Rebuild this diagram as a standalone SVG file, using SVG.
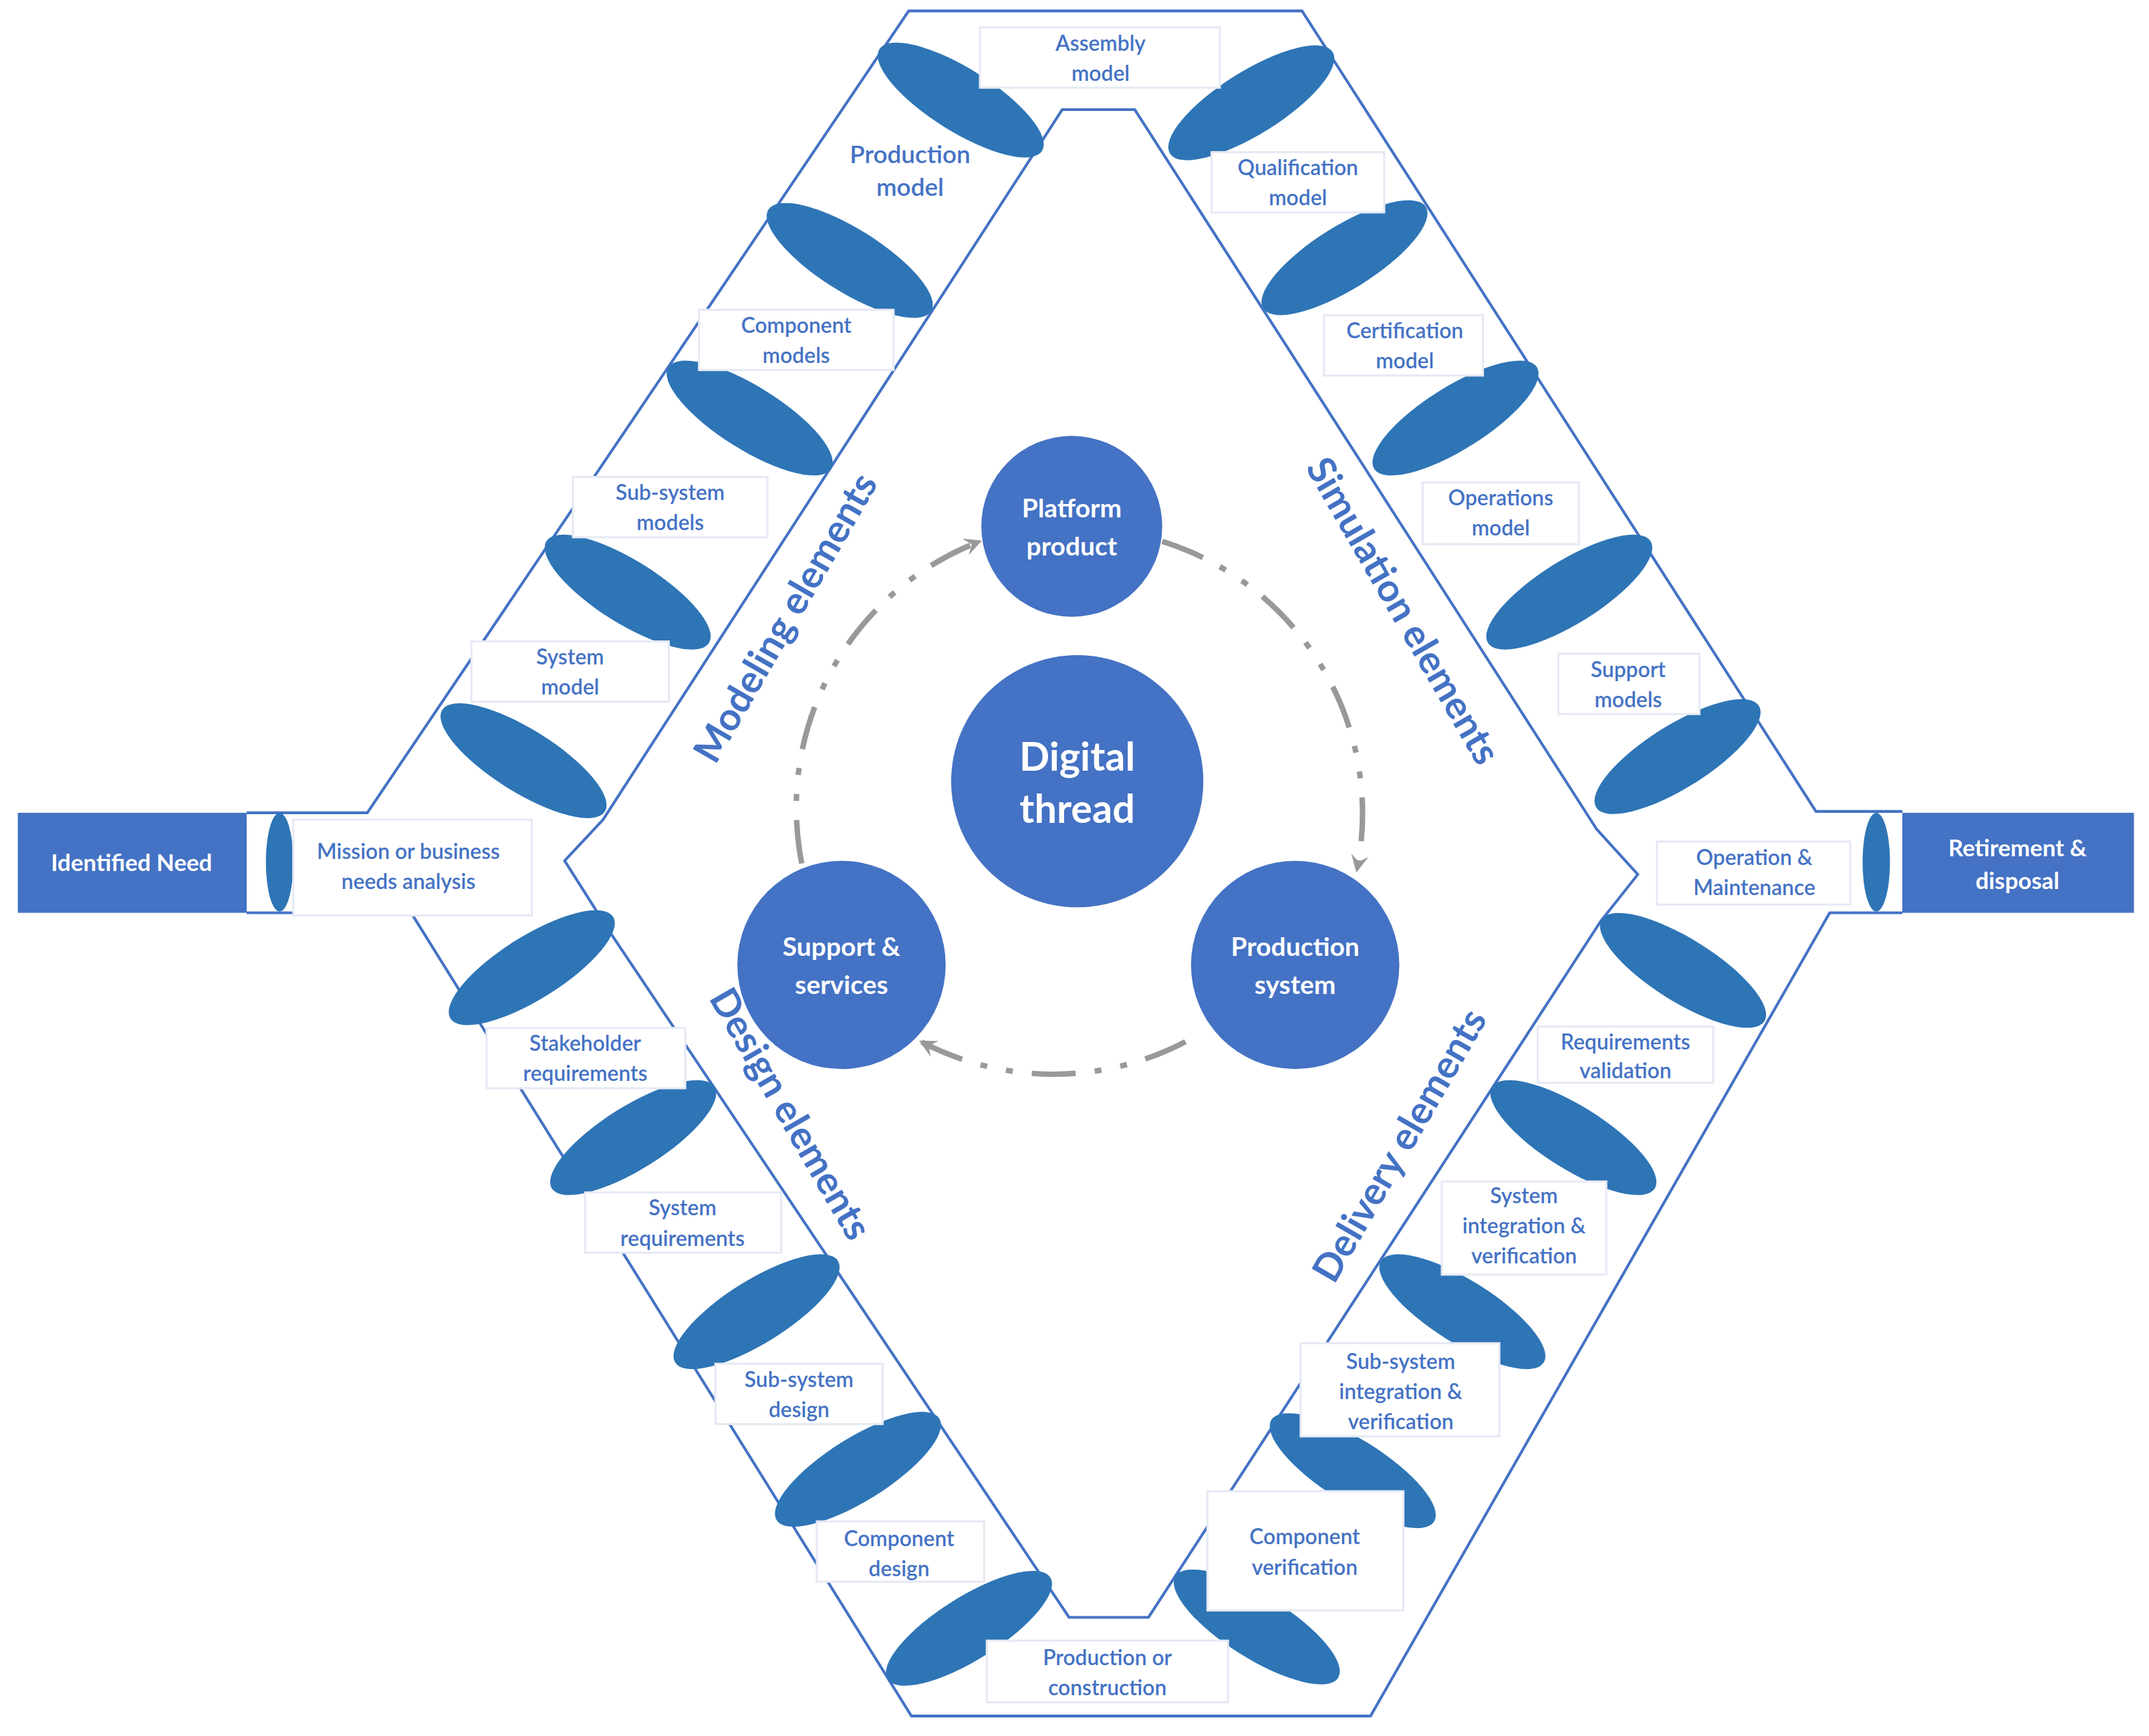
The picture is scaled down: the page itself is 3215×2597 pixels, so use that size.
<svg xmlns="http://www.w3.org/2000/svg" width="3215" height="2597" viewBox="0 0 3215 2597">
<style>
.ln{fill:none;stroke:#4472C4;stroke-width:2}
.el{fill:#2E75B6}
.bx{fill:#fff;stroke:#E6E9F4;stroke-width:1.5}
.t{font-family:Lato,"Liberation Sans",sans-serif;font-size:15.5px;fill:#4472C4;text-anchor:middle;dominant-baseline:central;font-weight:600}
.c{fill:#4472C4}
.ct{font-family:Lato,"Liberation Sans",sans-serif;font-size:19px;fill:#fff;text-anchor:middle;dominant-baseline:central;font-weight:700}
.big{font-family:Lato,"Liberation Sans",sans-serif;font-size:28px;fill:#4472C4;text-anchor:middle;dominant-baseline:central;font-weight:700}
.arc{fill:none;stroke:#999;stroke-width:4;stroke-dasharray:32 14 5 14 5 14;marker-end:url(#ah)}
</style>
<defs>
<marker id="ah" viewBox="0 0 10 10" refX="8" refY="5" markerWidth="4" markerHeight="4" orient="auto" markerUnits="strokeWidth">
<path d="M1,1 L9,5 L1,9 L4,5 Z" fill="#999"/>
</marker>
</defs>
<rect width="3215" height="2597" fill="#fff"/>
<g transform="scale(2.0504)">
<g id="frame">
<path class="ln" d="M180,593 L268,593 L663,8 L950,8 L1325,592 L1388,592"/>
<path class="ln" d="M180,666 L300,666 L665,1252 L1000,1252 L1335,666 L1388,666"/>
<path class="ln" d="M412,628 L440,598 L775,80 L828,80 L1165,605 L1195,638 L1168,672 L838,1180 L780,1180 L445,680 Z"/>
</g>
<g id="ends">
<g id="identified-need"><rect x="13" y="593" width="167" height="73" class="c"/><text class="ct" x="96" y="629" style="font-size:17px">Identified Need</text>
<ellipse class="el" cx="204" cy="629" rx="10" ry="36"/></g>
<g id="retirement"><rect x="1388" y="593" width="169" height="73" class="c"/><text class="ct" x="1472" y="618" style="font-size:17px">Retirement &amp;</text><text class="ct" x="1472" y="642" style="font-size:17px">disposal</text>
<ellipse class="el" cx="1369" cy="629" rx="10" ry="36"/></g>
</g>
<g id="discs">
<ellipse class="el" cx="701" cy="73" rx="70" ry="23" transform="rotate(32 701 73)"/>
<ellipse class="el" cx="620" cy="190" rx="70" ry="23" transform="rotate(32 620 190)"/>
<ellipse class="el" cx="547" cy="305" rx="70" ry="23" transform="rotate(32 547 305)"/>
<ellipse class="el" cx="458" cy="432" rx="70" ry="23" transform="rotate(32 458 432)"/>
<ellipse class="el" cx="382" cy="555" rx="70" ry="23" transform="rotate(32 382 555)"/>
<ellipse class="el" cx="913" cy="75" rx="70" ry="23" transform="rotate(-32 913 75)"/>
<ellipse class="el" cx="981" cy="188" rx="70" ry="23" transform="rotate(-32 981 188)"/>
<ellipse class="el" cx="1062" cy="305" rx="70" ry="23" transform="rotate(-32 1062 305)"/>
<ellipse class="el" cx="1145" cy="432" rx="70" ry="23" transform="rotate(-32 1145 432)"/>
<ellipse class="el" cx="1224" cy="552" rx="70" ry="23" transform="rotate(-32 1224 552)"/>
<ellipse class="el" cx="388" cy="706" rx="70" ry="23" transform="rotate(-32 388 706)"/>
<ellipse class="el" cx="462" cy="830" rx="70" ry="23" transform="rotate(-32 462 830)"/>
<ellipse class="el" cx="552" cy="957" rx="70" ry="23" transform="rotate(-32 552 957)"/>
<ellipse class="el" cx="626" cy="1072" rx="70" ry="23" transform="rotate(-32 626 1072)"/>
<ellipse class="el" cx="707" cy="1188" rx="70" ry="23" transform="rotate(-32 707 1188)"/>
<ellipse class="el" cx="1228" cy="708" rx="70" ry="23" transform="rotate(32 1228 708)"/>
<ellipse class="el" cx="1148" cy="830" rx="70" ry="23" transform="rotate(32 1148 830)"/>
<ellipse class="el" cx="1067" cy="957" rx="70" ry="23" transform="rotate(32 1067 957)"/>
<ellipse class="el" cx="987" cy="1073" rx="70" ry="23" transform="rotate(32 987 1073)"/>
<ellipse class="el" cx="917" cy="1187" rx="70" ry="23" transform="rotate(32 917 1187)"/>
</g>
<g id="labels">
<g id="assembly"><rect class="bx" x="715" y="20" width="175" height="44"/><text class="t" x="803" y="31">Assembly</text><text class="t" x="803" y="53">model</text></g>
<g id="production-model"><text class="t" x="664" y="112" style="font-size:18px">Production</text><text class="t" x="664" y="136" style="font-size:18px">model</text></g>
<g id="component-models"><rect class="bx" x="510" y="226" width="142" height="44"/><text class="t" x="581" y="237">Component</text><text class="t" x="581" y="259">models</text></g>
<g id="subsystem-models"><rect class="bx" x="418" y="348" width="142" height="44"/><text class="t" x="489" y="359">Sub-system</text><text class="t" x="489" y="381">models</text></g>
<g id="system-model"><rect class="bx" x="344" y="468" width="144" height="44"/><text class="t" x="416" y="479">System</text><text class="t" x="416" y="501">model</text></g>
<g id="mission"><rect class="bx" x="214" y="598" width="174" height="70"/><text class="t" x="298" y="621">Mission or business</text><text class="t" x="298" y="643">needs analysis</text></g>
<g id="qualification"><rect class="bx" x="884" y="111" width="126" height="44"/><text class="t" x="947" y="122">Qualification</text><text class="t" x="947" y="144">model</text></g>
<g id="certification"><rect class="bx" x="966" y="230" width="116" height="44"/><text class="t" x="1025" y="241">Certification</text><text class="t" x="1025" y="263">model</text></g>
<g id="operations"><rect class="bx" x="1038" y="352" width="114" height="45"/><text class="t" x="1095" y="363">Operations</text><text class="t" x="1095" y="385">model</text></g>
<g id="support-models"><rect class="bx" x="1137" y="477" width="103" height="44"/><text class="t" x="1188" y="488">Support</text><text class="t" x="1188" y="510">models</text></g>
<g id="operation-maint"><rect class="bx" x="1209" y="614" width="141" height="46"/><text class="t" x="1280" y="625">Operation &amp;</text><text class="t" x="1280" y="647">Maintenance</text></g>
<g id="stakeholder"><rect class="bx" x="355" y="750" width="145" height="44"/><text class="t" x="427" y="761">Stakeholder</text><text class="t" x="427" y="783">requirements</text></g>
<g id="system-req"><rect class="bx" x="427" y="870" width="143" height="44"/><text class="t" x="498" y="881">System</text><text class="t" x="498" y="903">requirements</text></g>
<g id="subsystem-design"><rect class="bx" x="522" y="995" width="122" height="44"/><text class="t" x="583" y="1006">Sub-system</text><text class="t" x="583" y="1028">design</text></g>
<g id="component-design"><rect class="bx" x="596" y="1110" width="122" height="44"/><text class="t" x="656" y="1122">Component</text><text class="t" x="656" y="1144">design</text></g>
<g id="production-construction"><rect class="bx" x="720" y="1197" width="176" height="45"/><text class="t" x="808" y="1209">Production or</text><text class="t" x="808" y="1231">construction</text></g>
<g id="req-validation"><rect class="bx" x="1122" y="749" width="128" height="41"/><text class="t" x="1186" y="760">Requirements</text><text class="t" x="1186" y="781">validation</text></g>
<g id="system-iv"><rect class="bx" x="1052" y="862" width="120" height="68"/><text class="t" x="1112" y="872">System</text><text class="t" x="1112" y="894">integration &amp;</text><text class="t" x="1112" y="916">verification</text></g>
<g id="subsystem-iv"><rect class="bx" x="949" y="980" width="145" height="68"/><text class="t" x="1022" y="993">Sub-system</text><text class="t" x="1022" y="1015">integration &amp;</text><text class="t" x="1022" y="1037">verification</text></g>
<g id="component-verif"><rect class="bx" x="881" y="1088" width="143" height="87"/><text class="t" x="952" y="1121">Component</text><text class="t" x="952" y="1143">verification</text></g>
</g>
<g id="section-titles">
<text class="big" transform="translate(572,450) rotate(-60)">Modeling elements</text>
<text class="big" transform="translate(1025,445) rotate(60)">Simulation elements</text>
<text class="big" transform="translate(578,812) rotate(60)">Design elements</text>
<text class="big" transform="translate(1020,835) rotate(-60)">Delivery elements</text>
</g>
<g id="connectors">
<path class="arc" d="M585,630 A208,208 0 0 1 715,395"/>
<path class="arc" d="M848,395 A208,208 0 0 1 990,635"/>
<path class="arc" d="M865,760 A208,208 0 0 1 672,760"/>
</g>
<g id="platform"><circle class="c" cx="782" cy="384" r="66"/><text class="ct" x="782" y="370">Platform</text><text class="ct" x="782" y="398">product</text></g>
<g id="digital-thread"><circle class="c" cx="786" cy="570" r="92"/><text class="ct" x="786" y="551" style="font-size:29px">Digital</text><text class="ct" x="786" y="589" style="font-size:29px">thread</text></g>
<g id="production-system"><circle class="c" cx="945" cy="704" r="76"/><text class="ct" x="945" y="690">Production</text><text class="ct" x="945" y="718">system</text></g>
<g id="support-services"><circle class="c" cx="614" cy="704" r="76"/><text class="ct" x="614" y="690">Support &amp;</text><text class="ct" x="614" y="718">services</text></g>
</g>
</svg>
